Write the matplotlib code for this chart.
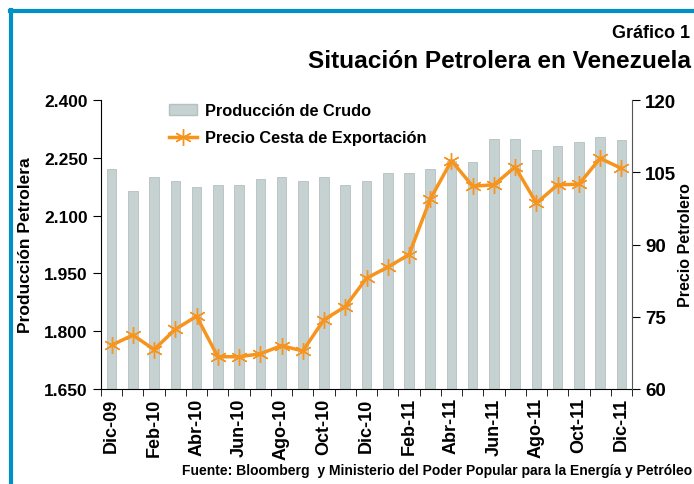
import matplotlib.pyplot as plt
from matplotlib.lines import Line2D
from matplotlib.patches import Rectangle
import numpy as np

plt.rcParams['font.family'] = ['Liberation Sans', 'DejaVu Sans']
plt.rcParams['font.weight'] = 'bold'

meses = ['Dic-09', 'Ene-10', 'Feb-10', 'Mar-10', 'Abr-10', 'May-10', 'Jun-10',
         'Jul-10', 'Ago-10', 'Sep-10', 'Oct-10', 'Nov-10', 'Dic-10', 'Ene-11',
         'Feb-11', 'Mar-11', 'Abr-11', 'May-11', 'Jun-11', 'Jul-11', 'Ago-11',
         'Sep-11', 'Oct-11', 'Nov-11', 'Dic-11']
produccion = [2220, 2165, 2200, 2190, 2175, 2180, 2180, 2195, 2200, 2190, 2200,
              2180, 2190, 2210, 2210, 2220, 2242, 2240, 2300, 2300, 2270, 2280,
              2290, 2305, 2295]
precio = [69.1, 71.2, 68.2, 72.4, 75.1, 66.7, 66.7, 67.3, 69.0, 67.9, 74.4,
          77.1, 83.0, 85.3, 87.9, 99.4, 107.4, 102.1, 102.4, 106.1, 98.6,
          102.4, 102.5, 107.9, 105.8]

naranja = '#F7941D'
gris = '#C6D1D1'

fig = plt.figure(figsize=(6.94, 4.85), dpi=100)
ax = fig.add_axes([101 / 694, 95 / 485, 531 / 694, 289 / 485])
x = np.arange(len(meses))
ax.bar(x, produccion, width=0.45, color=gris, edgecolor='#B5C0C0', linewidth=0.6, zorder=1)
ax.set_xlim(-0.5, len(meses) - 0.5)
ax.set_ylim(1650, 2400)
ax.set_yticks([1650, 1800, 1950, 2100, 2250, 2400])
ax.set_yticklabels(['1.650', '1.800', '1.950', '2.100', '2.250', '2.400'], fontsize=12.5)
ax.set_xticks(x[::2])
ax.set_xticklabels(meses[::2], rotation=90, fontsize=13)
ax.set_xticks(np.arange(-0.5, len(meses)), minor=True)
ax.tick_params(axis='x', which='major', length=0, pad=6)
ax.tick_params(axis='x', which='minor', length=5, direction='out')
ax.tick_params(axis='y', length=6, direction='out')
ax.set_ylabel('Producción Petrolera', fontsize=12.5, fontweight='bold', labelpad=8)
for s in ['top', 'right']:
    ax.spines[s].set_visible(False)

ax2 = ax.twinx()
ax2.plot(x, precio, color=naranja, linewidth=2.5, marker=(6, 2, 0),
         markersize=12, markeredgewidth=1.0, markeredgecolor=naranja, zorder=3)
ax2.set_ylim(60, 120)
ax2.set_yticks([60, 75, 90, 105, 120])
ax2.set_yticklabels(['60', '75', '90', '105', '120'], fontsize=13.5)
ax2.tick_params(axis='y', length=6, direction='out')
ax2.set_ylabel('Precio Petrolero', fontsize=11.5, fontweight='bold', labelpad=1)
ax2.spines['right'].set_color('#555555')
for s in ['top', 'left', 'bottom']:
    ax2.spines[s].set_visible(False)

handles = [Rectangle((0, 0), 1, 1, facecolor=gris, edgecolor='#B5C0C0'),
           Line2D([], [], color=naranja, linewidth=2.5, marker=(6, 2, 0),
                  markersize=12, markeredgewidth=1.0)]
ax2.legend(handles, ['Producción de Crudo', 'Precio Cesta de Exportación'],
           loc='upper left', bbox_to_anchor=(0.1, 1.04), frameon=False,
           fontsize=11.8, handlelength=1.7, handletextpad=0.5, labelspacing=0.75)

fig.text(690 / 694, 1 - 33 / 485, 'Gráfico 1', ha='right', va='center', fontsize=13, fontweight='bold')
fig.text(691 / 694, 1 - 61 / 485, 'Situación Petrolera en Venezuela', ha='right', va='center',
         fontsize=17.6, fontweight='bold')
fig.text(692 / 694, 1 - 471 / 485,
         'Fuente: Bloomberg  y Ministerio del Poder Popular para la Energía y Petróleo',
         ha='right', va='center', fontsize=10, fontweight='bold')

azul = '#0090C4'
fig.add_artist(Line2D([11 / 694, 11 / 694], [0, 1 - 11 / 485], color=azul, linewidth=3,
                      transform=fig.transFigure))
fig.add_artist(Line2D([10 / 694, 1], [1 - 12 / 485, 1 - 12 / 485], color=azul, linewidth=3,
                      transform=fig.transFigure))

fig.savefig('out.png', dpi=100)
